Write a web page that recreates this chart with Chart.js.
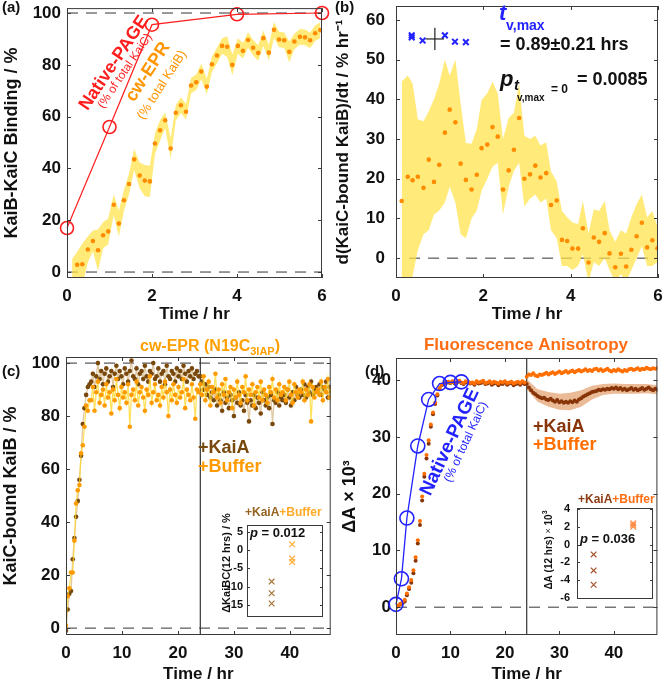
<!DOCTYPE html>
<html>
<head>
<meta charset="utf-8">
<script src="https://cdn.jsdelivr.net/npm/chart.js@4"></script>
<style>
  html, body { margin: 0; padding: 0; background: #fff; overflow: hidden; }
  #wrap { position: relative; width: 666px; height: 681px; overflow: hidden; }
  canvas { position: absolute; }
</style>
</head>
<body>
<div id="wrap">
  <canvas id="chartA" width="333" height="330" style="left:0;top:0"></canvas>
  <canvas id="chartB" width="333" height="330" style="left:333px;top:0"></canvas>
  <canvas id="chartC" width="333" height="360" style="left:0;top:330px"></canvas>
  <canvas id="chartD" width="333" height="360" style="left:333px;top:330px"></canvas>
  <canvas id="insetC" width="115" height="120" style="left:215px;top:505px"></canvas>
  <canvas id="insetD" width="125" height="115" style="left:537px;top:490px"></canvas>
</div>
<script>
// ---- panel (a): KaiB-KaiC binding ----
var aPageT = [0, 1, 2, 4, 6];
var aPageV = [17, 56, 95.5, 99.5, 100];
var aEprT = [0.12, 0.24, 0.36, 0.49, 0.61, 0.73, 0.85, 0.97, 1.10, 1.22, 1.34, 1.46, 1.58, 1.71, 1.83, 1.95,
    2.07, 2.19, 2.31, 2.44, 2.56, 2.68, 2.80, 2.92, 3.04, 3.16, 3.29, 3.41, 3.53, 3.65, 3.77, 3.89,
    4.02, 4.14, 4.26, 4.38, 4.50, 4.62, 4.75, 4.87, 4.99, 5.11, 5.23, 5.35, 5.48, 5.60, 5.72, 5.84, 5.96];
var aEprV = [-3, 2.8, 3, 8.7, 12, 8.4, 14.2, 15.7, 26, 18.7, 27.7, 34, 43.5, 37.3, 35.3, 35,
    49.6, 54.7, 58.6, 47.7, 61.5, 64.4, 61.9, 72, 73.3, 77.4, 71.6, 80.2, 83.6, 87.3, 87, 80,
    87.3, 85.4, 89.6, 86.6, 84.6, 90.3, 84.7, 93.5, 89.8, 89.5, 85, 89, 90.8, 90.6, 89.5, 92.2, 93.4];
var aEprErr = [8, 5, 8, 5, 4, 8, 5, 5, 4, 5, 4, 4, 4, 5, 6, 6,
    4, 4, 3, 4, 3, 3, 3, 3, 3, 3, 3, 3, 3, 3, 4, 4,
    3, 3, 3, 3, 3, 3, 3, 3, 3, 3, 4, 3, 3, 3, 3, 3, 3];
var aTicksX = [0, 2, 4, 6];
var aTicksY = [0, 20, 40, 60, 80, 100];

// ---- panel (b): binding rate ----
var bT = [0.13, 0.27, 0.38, 0.50, 0.63, 0.75, 0.87, 0.99, 1.12, 1.23, 1.36, 1.48, 1.60, 1.73, 1.85, 1.96,
    2.09, 2.21, 2.33, 2.45, 2.58, 2.70, 2.82, 2.94, 3.07, 3.19, 3.31, 3.44, 3.55, 3.68, 3.80, 3.92,
    4.04, 4.17, 4.28, 4.41, 4.53, 4.65, 4.78, 4.89, 5.02, 5.15, 5.27, 5.39, 5.51, 5.63, 5.75, 5.87, 5.99];
var bV = [14.4, 20.5, 19.6, 20.5, 17.7, 24.8, 19.2, 23.5, 31.6, 37.4, 34.2, 23.8, 19.7, 17.3, 21, 27.7,
    28.6, 33, 30.6, 17.3, 22.1, 27.3, 35.3, 20, 21.1, 23.3, 20.3, 21.4, 13.4, 14.5, 4.6, 4.3,
    2.4, 2.4, 7.5, -1.1, 5.2, 4.1, 6.3, 1.2, -2.3, 1.1, -2.1, 2.1, 5.5, 8.9, 2.7, 4.5, 2.5];
var bHi = [44.4, 46, 44, 35, 34.5, 37, 40, 44, 50, 46, 50, 39, 29, 28.8, 32.5, 39.8,
    41.5, 44.4, 41.5, 30, 35.3, 36.6, 44, 30.8, 30, 30.8, 28.4, 29.2, 21.8, 19.3, 11.9, 10.3,
    9, 8.6, 14.4, 6.2, 12.3, 11.9, 14.4, 7, 4.1, 7, 6.2, 10.3, 13.6, 16, 10.3, 11.9, 7.8];
var bLo = [-10, -8, -4.5, 2, 6, 7, 11, 12, 14, 18, 14, 6, 5, 10, 12, 17,
    20, 23, 24, 11, 18, 22, 24, 13, 15, 16, 14, 15, 7, 5, -2, -2,
    -3, -2, 1, -6, -1, -2, 0, -3, -6, -4, -6, -3, 0, 3, -2, -2, -1];
var bPeakT = [0.36, 0.36, 0.61, 1.12, 1.35, 1.60];
var bPeakV = [56.1, 55.6, 54.8, 56.1, 54.5, 54.4];
var tvMax = 0.89, tvMaxErr = 0.21, tvMaxY = 55.2;
var bTicksX = [0, 2, 4, 6];
var bTicksY = [0, 10, 20, 30, 40, 50, 60];

// ---- panel (c): cw-EPR, one point every 0.3 hr from t = 0 ----
var cStep = 0.3;
var cKaiA = [-1, 7, 13, 14, 26, 34, 42, 48, 56, 65, 77, 83, 88, 91, 92,
    93, 96, 91, 95, 100, 94, 97, 92, 96, 98, 93, 95, 97, 91, 96, 99, 94, 97, 95, 92,
    98, 96, 93, 97, 101, 95, 94, 98, 92, 96, 97, 94, 99, 95, 93, 97, 96, 100, 94, 95,
    98, 93, 96, 97, 92, 99, 95, 94, 97, 96, 93, 98, 95, 97, 94, 99, 96, 93, 97, 95,
    98, 94, 96, 97, 95,
    95, 93, 90, 92, 88, 91, 87, 89, 86, 90, 84, 88, 86, 82, 89, 85, 87, 83, 88, 86,
    80, 87, 85, 89, 84, 86, 82, 88, 85, 78, 86, 84, 88, 83, 87, 85, 81, 89, 86, 84,
    87, 83, 88, 77, 86, 85, 89, 84, 87, 86, 88, 85, 90, 87, 84, 89, 86, 91, 88, 87,
    90, 88, 92, 87, 91, 89, 93, 88, 90, 91, 89, 92, 88, 91, 90, 93, 87, 91, 89, 92, 90];
var cBuffer = [1, 12, 15, 21, 21, 33, 47, 52, 54, 66, 69, 76, 84, 82, 86,
    86, 91, 82, 89, 93, 85, 88, 90, 84, 92, 87, 89, 81, 90, 86, 94, 88, 83, 91, 87,
    89, 85, 92, 76, 88, 90, 86, 93, 84, 89, 91, 87, 82, 90, 88, 95, 85, 89, 92, 86,
    88, 84, 91, 87, 93, 89, 80, 90, 86, 92, 88, 85, 91, 87, 89, 94, 83, 90, 88, 86,
    92, 87, 79, 90, 89,
    92, 88, 95, 86, 90, 93, 84, 91, 89, 96, 87, 90, 85, 92, 88, 94, 86, 89, 91, 83,
    90, 87, 93, 88, 85, 91, 89, 95, 86, 90, 88, 92, 84, 89, 91, 87, 93, 86, 90, 88,
    85, 91, 89, 94, 87, 90, 86, 92, 88, 89, 91, 86, 90, 93, 88, 85, 92, 89, 87, 90,
    89, 93, 86, 90, 88, 92, 78, 91, 87, 89, 90, 88, 93, 86, 91, 89, 94, 87, 90, 88, 91];
var cTicksX = [0, 10, 20, 30, 40];
var cTicksY = [0, 20, 40, 60, 80, 100];
var cInsetKaiA = [-8.6, -11.8, -14.6];
var cInsetBuffer = [1.6, -2.3, -3.2];
var cInsetTicksY = [5, 0, -5, -10, -15];

// ---- panel (d): fluorescence anisotropy, one point every 0.4 hr from t = 0 ----
var dStep = 0.4;
var dKaiA = [0, 0.2, 0.5, 0.7, 1.0, 2.1, 3.2, 4.3, 6.0, 8.2, 11.2, 14.5, 18.8, 23.0, 26.2, 28.8,
    31.8, 34.0, 35.8, 37.3, 38.5, 39.1, 39.4, 39.6, 39.6,
    39.5, 39.7, 39.4, 39.6, 39.8, 39.5, 39.3, 39.6, 39.7, 39.4, 39.5, 39.2, 39.6, 39.4, 39.5,
    39.7, 39.3, 39.4, 39.6, 39.2, 39.4, 39.5, 39.1, 39.4, 39.3, 39.6, 39.2, 39.4, 39.5, 39.1,
    39.3, 39.4, 39.2, 39.5, 39.3,
    39.3, 38.7, 38.2, 37.8, 37.5, 37.2, 37.0, 36.8, 36.9, 36.6, 36.5, 36.7, 36.4, 36.2, 36.5,
    36.1, 36.3, 36.0, 36.2, 36.0, 36.3, 36.1, 36.4, 36.2, 36.6, 36.8, 37.1, 37.3, 37.5, 37.7,
    37.9, 38.0, 38.1, 38.3, 38.2, 38.4, 38.3, 38.5, 38.4, 38.6, 38.5, 38.7, 38.4, 38.6, 38.3,
    38.5, 38.2, 38.4, 38.6, 38.3, 38.5, 38.2, 38.4, 38.6, 38.3, 38.5, 38.7, 38.4, 38.2, 38.5, 38.3];
var dBuffer = [0, 0.3, 0.6, 0.9, 1.3, 2.4, 3.5, 4.8, 6.5, 8.8, 11.8, 15.2, 19.5, 23.5, 26.8, 29.4,
    32.2, 34.3, 36.0, 37.5, 38.6, 39.2, 39.5, 39.7, 39.7,
    39.6, 39.8, 39.5, 39.7, 39.9, 39.6, 39.5, 39.8, 39.7, 39.5, 39.6, 39.4, 39.8, 39.6, 39.7,
    39.9, 39.5, 39.6, 39.8, 39.5, 39.7, 39.6, 39.4, 39.7, 39.6, 39.8, 39.5, 39.6, 39.7, 39.4,
    39.6, 39.7, 39.5, 39.8, 39.6,
    40.6, 41.0, 40.9, 41.2, 40.8, 40.7, 41.0, 40.9, 41.1, 41.3, 41.0, 41.2, 41.4, 41.1, 41.3,
    41.5, 41.2, 41.4, 41.6, 41.3, 41.5, 41.7, 41.4, 41.6, 41.8, 41.5, 41.7, 41.9, 41.6, 41.8,
    41.6, 41.9, 42.0, 41.7, 41.9, 41.6, 41.8, 42.0, 41.7, 41.5, 41.8, 41.6, 41.9, 41.7, 41.5,
    41.8, 41.6, 41.9, 42.0, 41.8, 41.9, 42.1, 41.8, 42.0, 41.9, 42.2, 42.0, 41.9, 42.1, 42.0, 42.1];
var dBandT = [24, 26, 28, 30, 32, 34, 36, 38, 40, 42, 44, 46, 48];
var dBandLo = [38.4, 36.2, 35.3, 34.8, 34.7, 35.3, 36.6, 37.4, 37.6, 37.6, 37.6, 37.7, 37.5];
var dBandHi = [40.2, 38.4, 37.9, 37.6, 37.8, 38.2, 39.0, 39.3, 39.4, 39.3, 39.3, 39.3, 39.1];
var dPageT = [0, 1, 2, 4, 6, 8, 10, 12];
var dPageV = [0.5, 5, 15.7, 28.4, 36.6, 39.4, 39.6, 39.7];
var dTicksX = [0, 10, 20, 30, 40];
var dTicksY = [0, 10, 20, 30, 40];
var dInsetKaiA = [-1.1, -2.9, -4.5];
var dInsetBuffer = [2.4, 2.0, 2.2];
var dInsetTicksY = [4, 2, 0, -2, -4, -6];

Chart.defaults.font.family = '"Liberation Sans", Arial, sans-serif';
var FONT = '"Liberation Sans", Arial, sans-serif';
var INK = '#111';

function pts(xs, ys) {
    return ys.map(function(y, i) { return { x: xs[i], y: y }; });
}
function onGrid(step, ys) {
    return ys.map(function(y, i) { return { x: i * step, y: y }; });
}
function at(x, ys) {
    return ys.map(function(y) { return { x: x, y: y }; });
}
function hline(y, x0, x1) { return [{ x: x0, y: y }, { x: x1, y: y }]; }
function vline(x, y0, y1) { return [{ x: x, y: y0 }, { x: x, y: y1 }]; }

function axis(min, max, ticks, o) {
    return {
        type: 'linear', min: min, max: max, display: o.display !== false,
        afterBuildTicks: function(s) { s.ticks = ticks.map(function(v) { return { value: v }; }); },
        afterFit: function(s) {
            if (s.isHorizontal()) s.height = o.size; else s.width = o.size;
            s.paddingTop = 0; s.paddingBottom = 0; s.paddingLeft = 0; s.paddingRight = 0;
        },
        grid: { display: false, drawTicks: false },
        border: { display: false },
        ticks: {
            autoSkip: false, maxRotation: 0, padding: o.pad, color: INK,
            font: { size: o.tickSize || 17, weight: 'bold' },
            callback: function(v) { return String(v); }
        },
        title: o.title ? {
            display: true, text: o.title, color: INK,
            font: { size: o.titleSize || 17, weight: 'bold' },
            padding: o.titlePad
        } : { display: false }
    };
}

// frame round the plot and MATLAB style inward ticks
function frame(opt) {
    return {
        id: 'frame',
        afterDatasetsDraw: function(chart) {
            var ctx = chart.ctx, a = chart.chartArea, L = opt.len;
            ctx.save();
            ctx.strokeStyle = '#3a3a3a';
            ctx.lineWidth = 1;
            ctx.strokeRect(a.left + 0.5, a.top + 0.5, a.right - a.left - 1, a.bottom - a.top - 1);
            ctx.beginPath();
            if (opt.x) {
                chart.scales.x.ticks.forEach(function(t) {
                    var p = Math.round(chart.scales.x.getPixelForValue(t.value)) + 0.5;
                    ctx.moveTo(p, a.bottom); ctx.lineTo(p, a.bottom - L);
                    ctx.moveTo(p, a.top); ctx.lineTo(p, a.top + L);
                });
            }
            chart.scales.y.ticks.forEach(function(t) {
                var p = Math.round(chart.scales.y.getPixelForValue(t.value)) + 0.5;
                ctx.moveTo(a.left, p); ctx.lineTo(a.left + L, p);
                ctx.moveTo(a.right, p); ctx.lineTo(a.right - L, p);
            });
            ctx.stroke();
            ctx.restore();
        }
    };
}

// free text; each item is a list of runs [text, font, colour, dy]
function notes(items) {
    return {
        id: 'notes',
        afterDraw: function(chart) {
            var ctx = chart.ctx;
            items.forEach(function(it) {
                ctx.save();
                ctx.translate(it.x, it.y);
                if (it.rot) ctx.rotate(it.rot * Math.PI / 180);
                ctx.textBaseline = 'middle';
                var w = 0;
                it.runs.forEach(function(r) { ctx.font = r[1]; w += ctx.measureText(r[0]).width; });
                var x0 = it.align === 'center' ? -w / 2 : 0;
                it.runs.forEach(function(r) {
                    ctx.font = r[1];
                    ctx.fillStyle = r[2];
                    ctx.fillText(r[0], x0, r[3] || 0);
                    x0 += ctx.measureText(r[0]).width;
                });
                ctx.restore();
            });
        }
    };
}
function b(size) { return 'bold ' + size + 'px ' + FONT; }
function bi(size) { return 'italic bold ' + size + 'px ' + FONT; }
function r(size) { return size + 'px ' + FONT; }

function dots(data, color, radius, order) {
    return { data: data, showLine: false, pointRadius: radius, pointHoverRadius: radius,
        pointBackgroundColor: color, pointBorderWidth: 0, borderWidth: 0, order: order };
}
function band(lo, hi, color, order) {
    return [
        { data: lo, pointRadius: 0, borderWidth: 0, fill: false, order: order },
        { data: hi, pointRadius: 0, borderWidth: 0, fill: '-1', backgroundColor: color, order: order }
    ];
}
function dash(data) {
    return { data: data, pointRadius: 0, borderColor: '#333', borderWidth: 1, borderDash: [11, 8], order: 20 };
}
function solid(data) {
    return { data: data, pointRadius: 0, borderColor: '#333', borderWidth: 1.2, order: 20 };
}

function makeChart(id, datasets, padding, scales, plugins) {
    return new Chart(document.getElementById(id), {
        type: 'line',
        data: { datasets: datasets },
        options: {
            responsive: false, animation: false, devicePixelRatio: 1,
            layout: { padding: padding },
            plugins: { legend: { display: false }, tooltip: { enabled: false } },
            scales: scales
        },
        plugins: plugins
    });
}

var RED = 'rgb(255,30,30)', YEL = 'rgba(255,226,70,0.72)', EPR = 'rgb(255,140,0)';
var BLUE = 'rgb(35,35,255)';

// (a)
var aLo = aEprV.map(function(v, i) { return v - aEprErr[i]; });
var aHi = aEprV.map(function(v, i) { return v + aEprErr[i]; });
makeChart('chartA',
    band(pts(aEprT, aLo), pts(aEprT, aHi), YEL, 9).concat([
        dots(pts(aEprT, aEprV), EPR, 2.3, 5),
        { data: pts(aPageT, aPageV), borderColor: RED, borderWidth: 1.2, pointRadius: 6.5,
          pointBorderColor: RED, pointBorderWidth: 1.6, pointBackgroundColor: 'rgba(0,0,0,0)', clip: false, order: 1 },
        dash(hline(100, 0, 6)), dash(hline(0, 0, 6))
    ]),
    { top: 2, right: 11, left: 0, bottom: 0 },
    {
        x: axis(0, 6, aTicksX, { size: 52, pad: 8, title: 'Time / hr', titlePad: { top: 0, bottom: 5 } }),
        y: axis(-2.3, 101.9, aTicksY, { size: 67, pad: 6, title: 'KaiB-KaiC Binding / %', titleSize: 18, titlePad: { top: 1, bottom: 0 } })
    },
    [frame({ len: 4, x: true }), notes([
        { x: 2, y: 8, runs: [['(a)', b(15), INK]] },
        { x: 114, y: 63, rot: -56, align: 'center', runs: [['Native-PAGE', b(18), RED]] },
        { x: 125, y: 71, rot: -56, align: 'center', runs: [['(% of total KaiC)', r(12), RED]] },
        { x: 148, y: 72, rot: -57, align: 'center', runs: [['cw-EPR', b(18), 'rgb(255,150,0)']] },
        { x: 162, y: 85, rot: -57, align: 'center', runs: [['(% total KaiB)', r(13), 'rgb(255,150,0)']] }
    ])]
);

// (b)
makeChart('chartB',
    band(pts(bT, bLo), pts(bT, bHi), YEL, 9).concat([
        dots(pts(bT, bV), EPR, 2.3, 5),
        { data: pts(bPeakT, bPeakV), showLine: false, pointStyle: 'crossRot', pointRadius: 4,
          pointBorderColor: BLUE, pointBorderWidth: 2, order: 2 },
        { data: hline(tvMaxY, tvMax - tvMaxErr, tvMax + tvMaxErr), pointRadius: 0, borderColor: '#222', borderWidth: 1.2, order: 1 },
        { data: vline(tvMax, tvMaxY - 2.8, tvMaxY + 2.8), pointRadius: 0, borderColor: '#222', borderWidth: 1.2, order: 1 },
        dash(hline(0, 0.3, 6))
    ]),
    { top: 1, right: 8, left: 0, bottom: 0 },
    {
        x: axis(0, 6, bTicksX, { size: 52, pad: 8, title: 'Time / hr', titlePad: { top: 0, bottom: 5 } }),
        y: axis(-5, 63.5, bTicksY, { size: 63, pad: 11, title: 'd(KaiC-bound KaiB)/dt / % hr\u207B\u00B9', titlePad: { top: 0, bottom: 0 } })
    },
    [frame({ len: 4, x: true }), notes([
        { x: 2, y: 8, runs: [['(b)', b(15), INK]] },
        { x: 166, y: 14, runs: [['t', bi(22), BLUE]] },
        { x: 173, y: 26, runs: [['v,max', b(14), BLUE]] },
        { x: 167, y: 45, runs: [['= 0.89\u00B10.21 hrs', b(18), INK]] },
        { x: 167, y: 80, runs: [['p', bi(22), INK]] },
        { x: 181, y: 86, runs: [['t', bi(15), INK]] },
        { x: 184, y: 98, runs: [['v,max', b(10), INK]] },
        { x: 218, y: 90, runs: [['= 0', b(12), INK]] },
        { x: 244, y: 80, runs: [['= 0.0085', b(18), INK]] }
    ])]
);

// (c)
var C_BROWN = 'rgb(120,72,12)', C_ORANGE = 'rgb(255,155,0)';
var cBrownDots = dots(onGrid(cStep, cKaiA), C_BROWN, 2.3, 4);
cBrownDots.showLine = true; cBrownDots.borderWidth = 1.3; cBrownDots.borderColor = 'rgba(205,165,100,0.6)';
var cOrangeDots = dots(onGrid(cStep, cBuffer), C_ORANGE, 2.3, 3);
cOrangeDots.showLine = true; cOrangeDots.borderWidth = 1.3; cOrangeDots.borderColor = 'rgba(255,215,40,0.75)';
makeChart('chartC',
    [cOrangeDots, cBrownDots, dash(hline(100, 0, 47.3)), dash(hline(0, 0, 47.3)), solid(vline(24, -2.6, 102.3))],
    { top: 27, right: 2, left: 0, bottom: 0 },
    {
        x: axis(0, 47.3, cTicksX, { size: 55, pad: 8, title: 'Time / hr', titlePad: { top: 0, bottom: 5 } }),
        y: axis(-2.6, 102.3, cTicksY, { size: 66, pad: 6, title: 'KaiC-bound KaiB / %', titleSize: 18, titlePad: { top: 0, bottom: 0 } })
    },
    [frame({ len: 4, x: true }), notes([
        { x: 2, y: 42, runs: [['(c)', b(15), INK]] },
        { x: 210, y: 17, align: 'center', runs: [['cw-EPR (N19C', b(16), 'rgb(255,160,0)'], ['3IAP', b(11), 'rgb(255,160,0)', 5], [')', b(16), 'rgb(255,160,0)']] },
        { x: 198, y: 118, runs: [['+KaiA', b(18), C_BROWN]] },
        { x: 198, y: 137, runs: [['+Buffer', b(18), C_ORANGE]] }
    ])]
);

// (d)
var D_BROWN = 'rgb(135,52,8)', D_ORANGE = 'rgb(255,110,0)';
makeChart('chartD',
    band(pts(dBandT, dBandLo), pts(dBandT, dBandHi), 'rgba(225,150,95,0.65)', 9).concat([
        dots(onGrid(dStep, dKaiA), D_BROWN, 2, 4),
        dots(onGrid(dStep, dBuffer), D_ORANGE, 2, 3),
        { data: pts(dPageT, dPageV), borderColor: BLUE, borderWidth: 1.3, pointRadius: 7,
          pointBorderColor: BLUE, pointBorderWidth: 1.6, pointBackgroundColor: 'rgba(0,0,0,0)', clip: false, order: 1 },
        dash(hline(0, 0, 48)), solid(vline(24, -4.9, 43.9))
    ]),
    { top: 28, right: 1, left: 0, bottom: 0 },
    {
        x: axis(0, 48, dTicksX, { size: 55, pad: 8, title: 'Time / hr', titlePad: { top: 0, bottom: 5 } }),
        y: axis(-4.9, 43.9, dTicksY, { size: 63, pad: 5, title: '\u0394A \u00D7 10\u00B3', titleSize: 18, titlePad: { top: 6, bottom: 0 } })
    },
    [frame({ len: 4, x: true }), notes([
        { x: 32, y: 42, runs: [['(d)', b(15), INK]] },
        { x: 193, y: 15, align: 'center', runs: [['Fluorescence Anisotropy', b(17), 'rgb(255,110,20)']] },
        { x: 117, y: 112, rot: -65, align: 'center', runs: [['Native-PAGE', b(19), BLUE]] },
        { x: 133, y: 112, rot: -65, align: 'center', runs: [['(% of total KaiC)', r(12), BLUE]] },
        { x: 200, y: 97, runs: [['+KaiA', b(18), D_BROWN]] },
        { x: 200, y: 115, runs: [['+Buffer', b(18), D_ORANGE]] }
    ])]
);

// insets: change over 12 hrs after adding KaiA or buffer
function xMarks(data, color) {
    return { data: data, showLine: false, pointStyle: 'crossRot', pointRadius: 4,
        pointBorderColor: color, pointBorderWidth: 1.2, order: 1 };
}
makeChart('insetC',
    [xMarks(at(1, cInsetKaiA), 'rgb(165,115,50)'), xMarks(at(2, cInsetBuffer), 'rgb(255,175,60)')],
    { top: 20, right: 7, left: 0, bottom: 8 },
    {
        x: axis(-0.2, 3.5, [], { size: 0, pad: 0, display: false }),
        y: axis(-18.3, 6.9, cInsetTicksY, { size: 32, pad: 4, tickSize: 11 })
    },
    [frame({ len: 3, x: false }), notes([
        { x: 30, y: 8, runs: [['+KaiA', b(12), 'rgb(150,100,35)'], ['+Buffer', b(12), 'rgb(255,170,40)']] },
        { x: 35, y: 28, runs: [['p', bi(13), INK], [' = 0.012', b(13), INK]] },
        { x: 12, y: 58, rot: -90, align: 'center', runs: [['\u0394KaiBC(12 hrs) / %', b(11), INK]] }
    ])]
);
makeChart('insetD',
    [xMarks(at(1, dInsetKaiA), 'rgb(165,85,45)'), xMarks(at(2, dInsetBuffer), 'rgb(255,140,70)')],
    { top: 18, right: 9, left: 0, bottom: 6 },
    {
        x: axis(0.58, 2.5, [], { size: 0, pad: 0, display: false }),
        y: axis(-6.1, 4.1, dInsetTicksY, { size: 40, pad: 7, tickSize: 11 })
    },
    [frame({ len: 3, x: false }), notes([
        { x: 41, y: 10, runs: [['+KaiA', b(12), 'rgb(140,60,20)'], ['+Buffer', b(12), 'rgb(255,110,20)']] },
        { x: 43, y: 49, runs: [['p', bi(13), INK], [' = 0.036', b(13), INK]] },
        { x: 12, y: 60, rot: -90, align: 'center', runs: [['\u0394A (12 hrs) ', b(10), INK], ['\u00D7', r(9), INK], [' 10', b(10), INK], ['3', b(7), INK, -4]] }
    ])]
);
</script>
</body>
</html>
